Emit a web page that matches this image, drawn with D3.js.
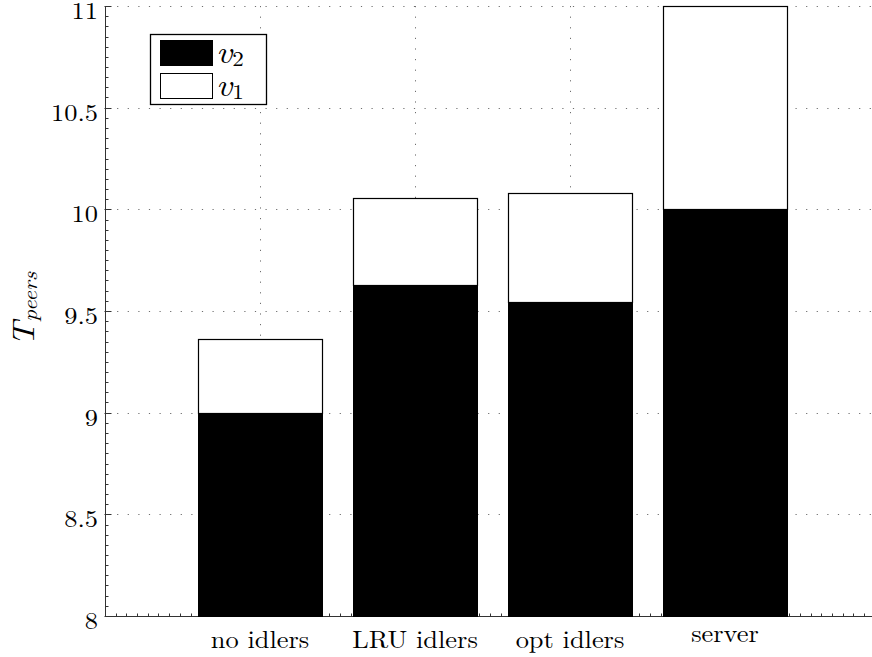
<!DOCTYPE html>
<html>
<head>
<meta charset="utf-8">
<script src="https://cdn.jsdelivr.net/npm/d3@7"></script>
<style>
  body { margin: 0; background: #fff; }
</style>
</head>
<body>
<svg id="chart" width="872" height="657"></svg>
<script>
// Stacked bars: v2 at the bottom, v1 stacked on top
const categories = ["no idlers", "LRU idlers", "opt idlers", "server"];
const v2 = [9.0, 9.632, 9.542, 10.0];
const v1 = [0.363, 0.426, 0.538, 1.0];
const yTicks = [8, 8.5, 9, 9.5, 10, 10.5, 11];
const yTickLabels = ["8", "8.5", "9", "9.5", "10", "10.5", "11"];
const legendItems = [
  { name: "v", sub: "2", fill: "#000" },
  { name: "v", sub: "1", fill: "#fff" }
];

const FONT = '"Latin Modern Roman", "CMU Serif", "Liberation Serif", serif';
const STRETCH = 1.1; // glyphs are drawn slightly wide

const svg = d3.select("#chart");
const W = 872, H = 657;

const x = d3.scaleLinear().domain([0, 5]).range([105, 880]);
const y = d3.scaleLinear().domain([8, 11]).range([616, 6]);
const barW = 0.8;
const crisp = v => Math.round(v) + 0.5;

const axisX = crisp(x(0));
const axisY = crisp(y(8));

// text placed at (tx, ty), widened horizontally
function label(parent, tx, ty, size, anchor, rot) {
  return parent.append("text")
    .attr("transform", `translate(${tx},${ty})` + (rot ? ` rotate(${rot})` : "") + ` scale(${STRETCH},1)`)
    .attr("font-family", FONT)
    .attr("font-size", size)
    .attr("text-anchor", anchor)
    .attr("fill", "#000");
}

// dotted grid
const grid = svg.append("g")
  .attr("stroke", "#6e6e6e")
  .attr("stroke-width", 1)
  .attr("stroke-dasharray", "1.2,9.4");
grid.selectAll("line.h").data(yTicks.filter(d => d > 8)).join("line")
  .attr("class", "h")
  .attr("x1", axisX + 1).attr("x2", W)
  .attr("y1", d => crisp(y(d))).attr("y2", d => crisp(y(d)));
grid.selectAll("line.v").data(categories).join("line")
  .attr("class", "v")
  .attr("x1", (d, i) => crisp(x(i + 1))).attr("x2", (d, i) => crisp(x(i + 1)))
  .attr("y1", y(11)).attr("y2", axisY - 1);

// axis lines with minor ticks
const axes = svg.append("g").attr("stroke", "#333").attr("stroke-width", 1);
axes.append("line").attr("x1", axisX).attr("x2", axisX).attr("y1", y(11)).attr("y2", axisY);
axes.append("line").attr("x1", axisX).attr("x2", W).attr("y1", axisY).attr("y2", axisY);

const yMinor = d3.range(8, 11.0001, 0.05);
axes.selectAll("line.ym").data(yMinor).join("line")
  .attr("class", "ym")
  .attr("x1", axisX).attr("x2", axisX + 3)
  .attr("y1", d => crisp(y(d))).attr("y2", d => crisp(y(d)));
axes.selectAll("line.yM").data(yTicks).join("line")
  .attr("class", "yM")
  .attr("x1", axisX - 1).attr("x2", axisX + 6)
  .attr("y1", d => crisp(y(d))).attr("y2", d => crisp(y(d)));

const xMinor = d3.range(0, 5, 1 / 14.5);
axes.selectAll("line.xm").data(xMinor).join("line")
  .attr("class", "xm")
  .attr("x1", d => crisp(x(d))).attr("x2", d => crisp(x(d)))
  .attr("y1", axisY).attr("y2", axisY - 3);

// y tick labels, sitting slightly below their ticks
const yl = svg.append("g");
yTicks.forEach((d, i) => {
  label(yl, axisX - 7.5, y(d) + 13, 24, "end").text(yTickLabels[i]);
});

// bars
const bars = svg.append("g");
categories.forEach((c, i) => {
  const x0 = x(i + 1 - barW / 2), x1 = x(i + 1 + barW / 2);
  bars.append("rect")
    .attr("x", crisp(x0)).attr("width", Math.round(x1 - x0))
    .attr("y", crisp(y(v2[i]))).attr("height", Math.round(y(8) - y(v2[i])))
    .attr("fill", "#000").attr("stroke", "#000");
  bars.append("rect")
    .attr("x", crisp(x0)).attr("width", Math.round(x1 - x0))
    .attr("y", crisp(y(v2[i] + v1[i]))).attr("height", Math.round(y(v2[i]) - y(v2[i] + v1[i])))
    .attr("fill", "#fff").attr("stroke", "#000").attr("stroke-width", 1.2);
});

// category labels: top edges aligned, so labels without ascenders sit higher
const xl = svg.append("g");
categories.forEach((c, i) => {
  label(xl, x(i + 1), /[A-Zbdfhklt]/.test(c) ? 648 : 642, 24, "middle").text(c);
});

// y axis label T_peers
const yt = label(svg, 34, 309, 31, "middle", -90).attr("font-style", "italic");
yt.append("tspan").text("T");
yt.append("tspan").attr("font-size", 21).attr("dy", 3).text("peers");

// legend
const lg = svg.append("g");
lg.append("rect").attr("x", 150.5).attr("y", 34.5).attr("width", 116).attr("height", 70)
  .attr("fill", "#fff").attr("stroke", "#000").attr("stroke-width", 1.3);
legendItems.forEach((d, i) => {
  const ty = 40.5 + i * 33;
  lg.append("rect").attr("x", 160.5).attr("y", ty).attr("width", 52).attr("height", 25)
    .attr("fill", d.fill).attr("stroke", "#000");
  const t = label(lg, 216, ty + 22.5, 32, "start");
  t.append("tspan").attr("font-style", "italic").text(d.name);
  t.append("tspan").attr("font-size", 21).attr("dy", 3).text(d.sub);
});
</script>
</body>
</html>
